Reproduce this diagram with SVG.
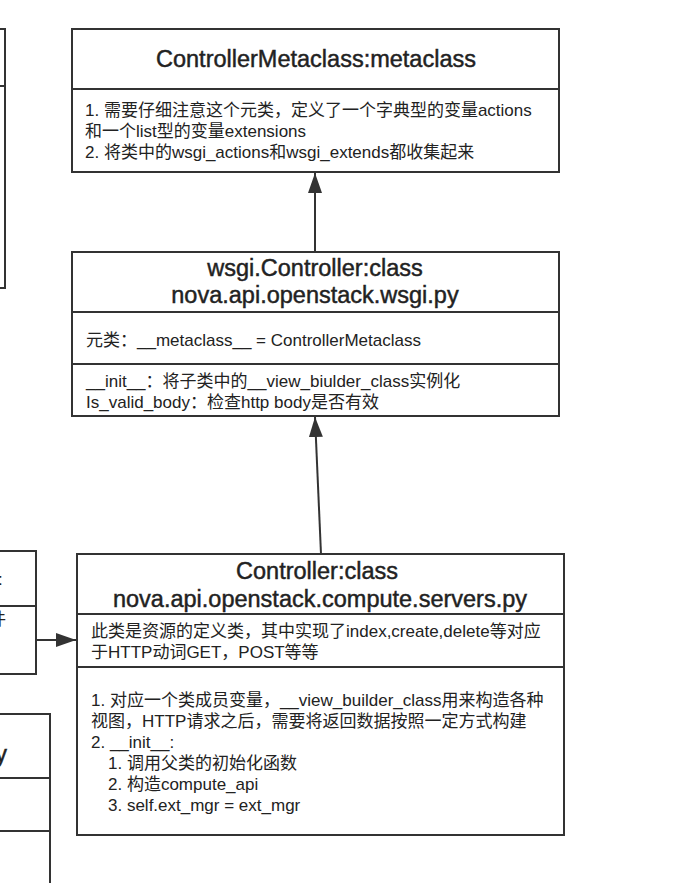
<svg xmlns="http://www.w3.org/2000/svg" width="690" height="883" viewBox="0 0 690 883">
<defs>
<style>
.box{fill:#fff;stroke:#333;stroke-width:2}
.div{stroke:#333;stroke-width:2}
.t{font-family:"Liberation Sans","Noto Sans CJK SC",sans-serif;font-size:23.5px;fill:#222;stroke:#222;stroke-width:0.45px;text-anchor:middle}
.b{font-family:"Liberation Sans","Noto Sans CJK SC",sans-serif;font-size:17px;fill:#222}
.edge{stroke:#333;stroke-width:2;fill:none}
</style>
<marker id="arr" markerUnits="userSpaceOnUse" markerWidth="20" markerHeight="14" refX="20" refY="7" orient="auto">
<path d="M0,0 L20,7 L0,14 z" fill="#333"/>
</marker>
</defs>
<rect width="690" height="883" fill="#fff"/>

<g id="left-box-a">
<rect class="box" x="-100" y="29" width="105" height="259"/>
<line class="div" x1="-100" y1="86" x2="5" y2="86"/>
</g>

<g id="left-box-b">
<rect class="box" x="-100" y="551" width="136" height="123"/>
<line class="div" x1="-100" y1="606" x2="36" y2="606"/>
<text class="b" x="-2" y="585">:</text>
<text class="b" x="-11" y="625">件</text>
</g>

<g id="left-box-c">
<rect class="box" x="-100" y="714" width="150" height="200"/>
<line class="div" x1="-100" y1="778" x2="50" y2="778"/>
<line class="div" x1="-100" y1="831" x2="50" y2="831"/>
<text class="t" x="0" y="762" style="text-anchor:end" dx="7">y</text>
</g>

<g id="controller-metaclass">
<rect class="box" x="72" y="29" width="487" height="143"/>
<line class="div" x1="72" y1="89" x2="559" y2="89"/>
<text class="t" x="316" y="67">ControllerMetaclass:metaclass</text>
<text class="b" x="85" y="116">1. 需要仔细注意这个元类，定义了一个字典型的变量actions</text>
<text class="b" x="85" y="137">和一个list型的变量extensions</text>
<text class="b" x="85" y="158">2. 将类中的wsgi_actions和wsgi_extends都收集起来</text>
</g>

<g id="wsgi-controller">
<rect class="box" x="72" y="252" width="487" height="164"/>
<line class="div" x1="72" y1="312" x2="559" y2="312"/>
<line class="div" x1="72" y1="364" x2="559" y2="364"/>
<text class="t" x="315" y="276">wsgi.Controller:class</text>
<text class="t" x="315" y="303">nova.api.openstack.wsgi.py</text>
<text class="b" x="86" y="346">元类：__metaclass__ = ControllerMetaclass</text>
<text class="b" x="86" y="387">__init__：将子类中的__view_biulder_class实例化</text>
<text class="b" x="86" y="408">Is_valid_body：检查http body是否有效</text>
</g>

<g id="servers-controller">
<rect class="box" x="77" y="554" width="487" height="281"/>
<line class="div" x1="77" y1="614" x2="564" y2="614"/>
<line class="div" x1="77" y1="667" x2="564" y2="667"/>
<text class="t" x="317" y="579">Controller:class</text>
<text class="t" x="320" y="607">nova.api.openstack.compute.servers.py</text>
<text class="b" x="91" y="637">此类是资源的定义类，其中实现了index,create,delete等对应</text>
<text class="b" x="91" y="658">于HTTP动词GET，POST等等</text>
<text class="b" x="91" y="706">1. 对应一个类成员变量，__view_builder_class用来构造各种</text>
<text class="b" x="91" y="727">视图，HTTP请求之后，需要将返回数据按照一定方式构建</text>
<text class="b" x="91" y="748">2. __init__:</text>
<text class="b" x="108" y="769">1. 调用父类的初始化函数</text>
<text class="b" x="108" y="790">2. 构造compute_api</text>
<text class="b" x="108" y="811">3. self.ext_mgr = ext_mgr</text>
</g>

<g id="connectors">
<line class="edge" x1="315" y1="252" x2="315" y2="173" marker-end="url(#arr)"/>
<line class="edge" x1="321" y1="554" x2="315" y2="417" marker-end="url(#arr)"/>
<line class="edge" x1="36" y1="640" x2="76" y2="640" marker-end="url(#arr)"/>
</g>
</svg>
